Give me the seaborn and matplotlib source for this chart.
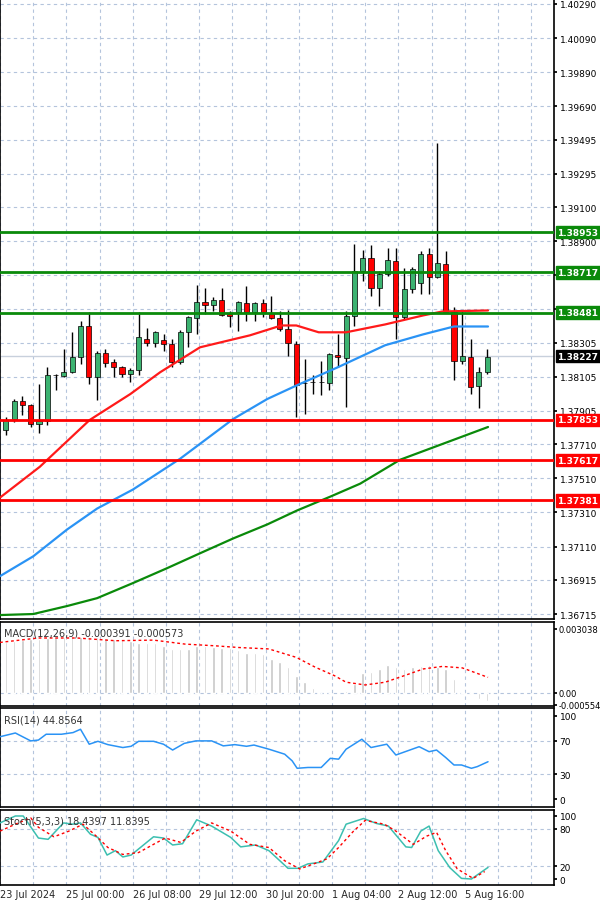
import numpy as np
import pandas as pd
import matplotlib
matplotlib.use("Agg")
import matplotlib.pyplot as plt
import matplotlib.transforms as mtrans
import seaborn as sns

sns.set_theme(style="white")
plt.rcParams['font.family'] = ['DejaVu Sans']

# ---------------- data ----------------
opens  = [1.37792,1.37855,1.37961,1.37942,1.37827,1.37847,1.38113,1.38107,1.38133,1.38220,
          1.38405,1.38103,1.38243,1.38189,1.38165,1.38119,1.38146,1.38327,1.38304,1.38323,
          1.38298,1.38189,1.38370,1.38447,1.38541,1.38525,1.38556,1.38473,1.38482,1.38537,
          1.38486,1.38537,1.38477,1.38447,1.38385,1.38298,1.38068,1.38074,1.38072,1.38068,
          1.38234,1.38214,1.38459,1.38725,1.38803,1.38628,1.38710,1.38784,1.38453,1.38622,
          1.38657,1.38823,1.38690,1.38768,1.38486,1.38195,1.38224,1.38049,1.38133]
highs  = [1.37870,1.37977,1.37990,1.37948,1.38064,1.38162,1.38119,1.38269,1.38370,1.38434,
          1.38482,1.38259,1.38269,1.38210,1.38171,1.38158,1.38482,1.38391,1.38375,1.38356,
          1.38327,1.38379,1.38463,1.38644,1.38628,1.38570,1.38628,1.38492,1.38550,1.38638,
          1.38541,1.38560,1.38580,1.38492,1.38496,1.38317,1.38210,1.38113,1.38197,1.38243,
          1.38356,1.38492,1.38885,1.38846,1.38877,1.38725,1.38861,1.38861,1.38745,1.38749,
          1.38842,1.38861,1.39474,1.38842,1.38515,1.38492,1.38327,1.38165,1.38269]
lows   = [1.37763,1.37841,1.37880,1.37812,1.37773,1.37821,1.38026,1.38103,1.38130,1.38181,
          1.38064,1.37967,1.38162,1.38103,1.38103,1.38074,1.38113,1.38288,1.38278,1.38259,
          1.38162,1.38181,1.38278,1.38356,1.38473,1.38492,1.38463,1.38395,1.38375,1.38434,
          1.38434,1.38453,1.38443,1.38375,1.38230,1.37870,1.37890,1.38006,1.37996,1.38026,
          1.38162,1.37928,1.38405,1.38667,1.38580,1.38521,1.38696,1.38327,1.38443,1.38599,
          1.38589,1.38589,1.38686,1.38486,1.38084,1.38181,1.38006,1.37925,1.38123]
closes = [1.37851,1.37961,1.37942,1.37831,1.37847,1.38113,1.38115,1.38133,1.38220,1.38405,
          1.38103,1.38243,1.38185,1.38165,1.38119,1.38146,1.38337,1.38304,1.38370,1.38298,
          1.38189,1.38370,1.38453,1.38541,1.38525,1.38556,1.38467,1.38463,1.38541,1.38486,
          1.38537,1.38482,1.38449,1.38385,1.38302,1.38055,1.38066,1.38072,1.38074,1.38236,
          1.38220,1.38459,1.38725,1.38803,1.38628,1.38710,1.38790,1.38453,1.38622,1.38735,
          1.38826,1.38690,1.38774,1.38486,1.38195,1.38230,1.38045,1.38136,1.38224]

ma_red_idx  = [0.0,5.1,11.1,16,19.6,24.4,30.4,34.2,36,38.7,42,46.7,51.3,53.6,59.1]
ma_red_val  = [1.37386,1.37578,1.37852,1.38004,1.38132,1.38278,1.38348,1.38406,1.38406,1.38366,
               1.38366,1.38412,1.38465,1.38488,1.38494]
ma_blue_idx = [0.3,4.3,8.4,12,16.3,22,28.4,32.5,36.1,41,46.7,51.3,55,59.1]
ma_blue_val = [1.36937,1.37053,1.37211,1.37333,1.37444,1.37625,1.37858,1.37975,1.38056,1.38161,
               1.38290,1.38354,1.38400,1.38400]
ma_green_idx = [0.3,4.3,8.4,12,16.3,20.4,24.4,28.4,32.5,36.1,40.1,43.7,48.5,59.1]
ma_green_val = [1.36709,1.36715,1.36762,1.36808,1.36896,1.36983,1.37071,1.37158,1.37240,1.37322,
                1.37403,1.37479,1.37619,1.37811]

res_levels = [1.38953, 1.38717, 1.38481]
sup_levels = [1.37853, 1.37617, 1.37381]
last_price = 1.38227
price_ticks = [1.40290,1.40090,1.39890,1.39690,1.39495,1.39295,1.39100,1.38900,1.38700,1.38500,
               1.38305,1.38105,1.37905,1.37710,1.37510,1.37310,1.37110,1.36915,1.36715]

macd_hist = [.00240,.00248,.00251,.00256,.00256,.00261,.00264,.00264,.00267,.00267,
             .00264,.00264,.00261,.00256,.00251,.00248,.00235,.00235,.00235,.00224,
             .00209,.00209,.00209,.00224,.00224,.00216,.00213,.00213,.00204,.00188,
             .00188,.00185,.00161,.00145,.00122,.00082,.00051,.00024,.00002,.00001,
             .00001,.00011,.00043,.00093,.00098,.00114,.00134,.00122,.00114,.00125,
             .00130,.00134,.00125,.00114,.00066,.00003,.00000,-.00028,-.00040]
macd_sig_idx = [0.3,4.9,9.6,14.2,18.8,22.6,26.2,29,32.7,36,38.3,40.6,42,44.3,46.7,49,51.3,53.6,56,59.1]
macd_sig_val = [.00240,.00261,.00261,.00248,.00251,.00232,.00224,.00216,.00209,.00169,.00122,
                .00082,.00051,.00038,.00051,.00082,.00114,.00126,.00119,.00074]

rsi_idx = [0.3,2.15,4.0,4.93,5.86,7.7,9.1,10.0,11.05,12.1,13.3,15.1,16.1,17,18.8,20,21.1,22.5,
           23.9,25.8,27.2,28.6,30,30.9,32.7,34.6,35.5,36.1,37.4,39,40.1,41.1,42,43.9,45,46.9,
           48,49.4,50.8,52,52.9,54,55,55.9,57.1,57.8,59.1]
rsi_val = [75,79.5,70,71,78,78,80,84,66,69.5,65.5,62,63.5,69.5,69.5,66,59,67,70,70,64,65.5,
           63.5,65,60,54,46,37,38,38,49,48,60,72,62,66,53,58,63,57,59,50,41,41,37,39,44.9]

stk_idx = [0.3,2.15,3.1,4.93,6.1,7.95,9.1,10.0,11.2,12.1,13.2,14.2,15.1,16.1,18.8,20,21.1,22.3,
           24,25.8,28.1,29.3,31.1,32.7,35,36.2,37.4,39.2,41.1,42,44.1,45.7,47.1,49.2,49.9,51,
           52,53.1,54.5,55.9,57.1,59.1]
stk_k = [89,100,100,65,63,89,87,89,71,66,38,45,35,38,67,65,54,56,94,84,66,51,54,45,17,17,24,27,
         61,87,96,88,84,51,50,76,84,45,18,1,0,18.4]
sig_idx = [0.3,2.15,4.0,4.93,6.8,8.6,10.3,11.9,13.3,15.1,17,18.8,20.2,22.1,23.9,25.8,28.1,30.4,
           32.7,34.6,36.4,38.3,39.7,41.1,42.9,44.3,46.6,48,50.1,51.7,52.9,54,55.4,57.3,58.7]
stk_d = [76,87,97,82,67,76,87,68,50,39,42,55,65,58,76,89,76,55,50,29,16,25,32,50,76,93,87,76,
         55,68,74,45,16,1,11.8]

time_labels = ["23 Jul 2024","25 Jul 00:00","26 Jul 08:00","29 Jul 12:00",
               "30 Jul 20:00","1 Aug 04:00","2 Aug 12:00","5 Aug 16:00"]

# ---------------- figure ----------------
fig = plt.figure(figsize=(6.0, 9.04), dpi=100)
W = 554/600
ax = fig.add_axes([0, 1-620/904, W, 620/904])
axm = fig.add_axes([0, 1-707/904, W, 84/904], sharex=ax)
axr = fig.add_axes([0, 1-808/904, W, 99/904], sharex=ax)
axs = fig.add_axes([0, 1-886/904, W, 75/904], sharex=ax)

grid_c = "#b4c4dc"
xlo, xhi = 0.3, 67.05
grid_x = np.arange(0.3, 67, 4)
for a in (ax, axm, axr, axs):
    a.set_facecolor("white")
    for s in a.spines.values():
        s.set_color("black"); s.set_linewidth(1.2)
    a.yaxis.tick_right()
    a.tick_params(axis='y', labelsize=6.5, length=2, pad=2, colors='black', direction='out', right=True)
    a.tick_params(axis='x', length=0)
    for gx in grid_x:
        a.axvline(gx, color=grid_c, ls=(0, (3, 3)), lw=0.8, zorder=0)

ax.set_xlim(xlo, xhi)

# price panel
n = len(opens)
idx = np.arange(1, n+1)
df = pd.DataFrame({"i": idx, "o": opens, "h": highs, "l": lows, "c": closes})
for p in price_ticks:
    ax.axhline(p, color=grid_c, ls=(0, (3, 3)), lw=0.8, zorder=0)
ax.axhline(last_price, color="#c8d0dc", lw=1, zorder=1)
ax.vlines(df.i, df.l, df.h, color="black", lw=1, zorder=3)
up = df.c >= df.o
body_lo = np.minimum(df.o, df.c)
body_h = np.maximum(np.abs(df.c - df.o), 0.00003)
ax.bar(df.i[up], body_h[up], bottom=body_lo[up], width=0.62, color="#3cb371",
       edgecolor="black", lw=0.5, zorder=4)
ax.bar(df.i[~up], body_h[~up], bottom=body_lo[~up], width=0.62, color="#ff0000",
       edgecolor="black", lw=0.5, zorder=4)
sns.lineplot(x=ma_red_idx, y=ma_red_val, ax=ax, color="#ff1a1a", lw=1.6, zorder=5)
sns.lineplot(x=ma_blue_idx, y=ma_blue_val, ax=ax, color="#2a93f5", lw=1.6, zorder=5)
sns.lineplot(x=ma_green_idx, y=ma_green_val, ax=ax, color="#0a8a0a", lw=1.6, zorder=5)
for lv in res_levels:
    ax.axhline(lv, color="#0a8a0a", lw=2, zorder=6)
for lv in sup_levels:
    ax.axhline(lv, color="#ff0000", lw=2, zorder=6)
ax.set_ylim(1.36715 - 5/17147, 1.40290 + 5/17147)
ax.set_yticks(price_ticks)
ax.set_yticklabels([f"{p:.5f}" for p in price_ticks])
tr = mtrans.blended_transform_factory(ax.transAxes, ax.transData)
def tag(v, fc):
    ax.text(1.006, v, f"{v:.5f}", transform=tr, fontsize=6.5, color="white", va="center",
            ha="left", fontweight="bold", zorder=10, clip_on=False,
            bbox=dict(boxstyle="square,pad=0.2", fc=fc, ec=fc))
for lv in res_levels:
    tag(lv, "#0a8a0a")
for lv in sup_levels:
    tag(lv, "#ff0000")
tag(last_price, "black")

# MACD
axm.bar(idx, macd_hist, width=0.3, color="#c8c8c8", zorder=2)
sns.lineplot(x=macd_sig_idx, y=macd_sig_val, ax=axm, color="red", lw=1, ls=(0, (2, 2)), zorder=3)
axm.axhline(0, color=grid_c, ls=(0, (3, 3)), lw=0.8, zorder=0)
axm.set_ylim(-0.00062, 0.00337)
axm.set_yticks([0.003038, 0.0, -0.000554])
axm.set_yticklabels(["0.003038", "0.00", "-0.000554"])
axm.tick_params(axis='y', labelsize=6, pad=1)
axm.text(0.008, 0.93, "MACD(12,26,9) -0.000391 -0.000573", transform=axm.transAxes,
         fontsize=7, va="top", color="#333333")

# RSI
for h in (70, 30):
    axr.axhline(h, color=grid_c, ls=(0, (3, 3)), lw=0.8, zorder=0)
sns.lineplot(x=rsi_idx, y=rsi_val, ax=axr, color="#2a93f5", lw=1.1, zorder=3)
axr.set_ylim(-9.6, 109.6)
axr.set_yticks([100, 70, 30, 0])
axr.text(0.008, 0.93, "RSI(14) 44.8564", transform=axr.transAxes, fontsize=7, va="top",
         color="#333333")

# Stochastic
for h in (80, 20):
    axs.axhline(h, color=grid_c, ls=(0, (3, 3)), lw=0.8, zorder=0)
sns.lineplot(x=stk_idx, y=stk_k, ax=axs, color="#3cbfb0", lw=1.1, zorder=3)
sns.lineplot(x=sig_idx, y=stk_d, ax=axs, color="red", lw=1, ls=(0, (2, 2)), zorder=3)
axs.set_ylim(-9.5, 109.5)
axs.set_yticks([100, 80, 20, 0])
axs.text(0.008, 0.93, "Stoch(5,3,3) 18.4397 11.8395", transform=axs.transAxes, fontsize=7,
         va="top", color="#333333")

for a in (ax, axm, axr):
    a.tick_params(axis='x', labelbottom=False)
tick_pos = [0.3 + 8*k for k in range(len(time_labels))]
axs.set_xticks(tick_pos)
axs.set_xticklabels(time_labels, fontsize=7, ha="left")
axs.tick_params(axis='x', pad=3)
for a in (ax, axm, axr, axs):
    a.set_xlabel(""); a.set_ylabel("")
ax.set_xlim(xlo, xhi)

fig.savefig("out.png", dpi=100)
